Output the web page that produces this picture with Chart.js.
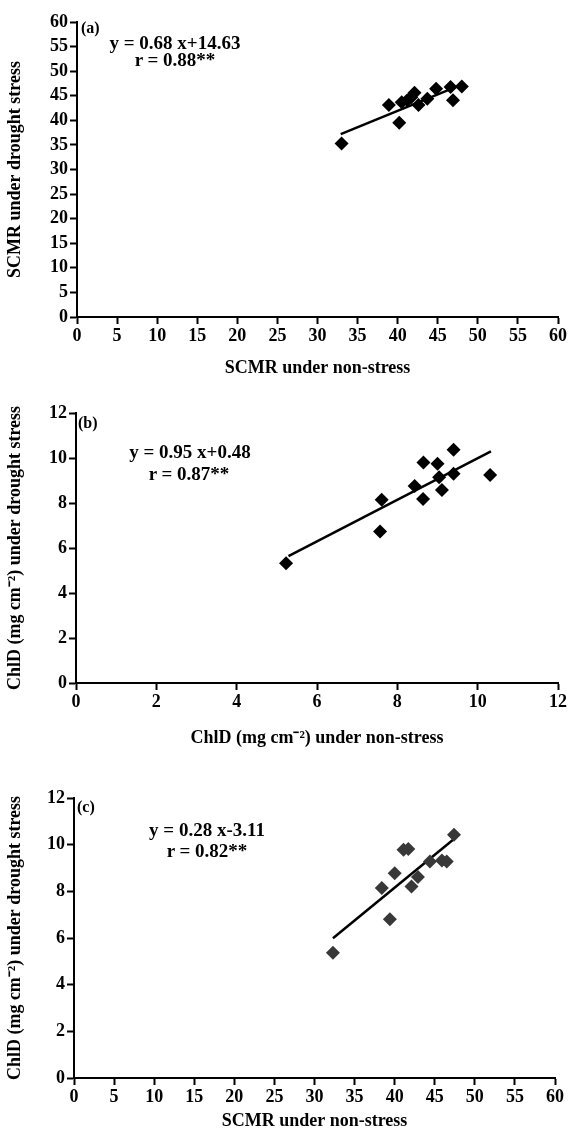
<!DOCTYPE html>
<html>
<head>
<meta charset="utf-8">
<script src="https://cdn.jsdelivr.net/npm/chart.js@4.4.1/dist/chart.umd.min.js"></script>
<style>
body{margin:0;background:#fff;width:569px;height:1133px;position:relative;overflow:hidden;font-family:'Liberation Serif',serif;color:#000}
canvas{position:absolute;left:0}
.eq{position:absolute;font-weight:bold;font-size:19px;line-height:1;white-space:nowrap;transform:translate(-50%,-50%)}
.tag{position:absolute;font-weight:bold;font-size:16px;line-height:1;white-space:nowrap;transform:translateY(-50%)}
</style>
</head>
<body>
<canvas id="chartA" width="569" height="380" style="top:0px"></canvas>
<canvas id="chartB" width="569" height="370" style="top:380px"></canvas>
<canvas id="chartC" width="569" height="373" style="top:760px"></canvas>

<div class="tag" style="left:81px;top:28px">(a)</div>
<div class="eq" style="left:175px;top:42px">y = 0.68 x+14.63</div>
<div class="eq" style="left:175px;top:59px">r = 0.88**</div>

<div class="tag" style="left:78px;top:423px">(b)</div>
<div class="eq" style="left:190px;top:451px">y = 0.95 x+0.48</div>
<div class="eq" style="left:189px;top:473px">r = 0.87**</div>

<div class="tag" style="left:77px;top:807px">(c)</div>
<div class="eq" style="left:207px;top:829px">y = 0.28 x-3.11</div>
<div class="eq" style="left:207px;top:850px">r = 0.82**</div>

<script>
// panel (a): SCMR, non-stress vs drought
var scmrNonStressA = [33.0, 38.9, 40.2, 40.5, 41.2, 41.7, 42.1, 42.6, 43.7, 44.8, 46.6, 46.9, 48.0];
var scmrDroughtA   = [35.3, 43.1, 39.5, 43.7, 44.1, 44.7, 45.6, 43.1, 44.4, 46.4, 46.8, 44.1, 46.9];
var fitXA = [32.9, 47.9];
var fitYA = [37.2, 47.2];

// panel (b): ChlD, non-stress vs drought
var chlNonStressB = [5.23, 7.61, 7.57, 8.43, 8.64, 8.65, 9.00, 9.04, 9.11, 9.40, 9.40, 10.31];
var chlDroughtB   = [5.32, 8.14, 6.73, 8.76, 8.18, 9.80, 9.74, 9.15, 8.58, 10.37, 9.30, 9.25];
var fitXB = [5.29, 10.33];
var fitYB = [5.64, 10.29];

// panel (c): SCMR non-stress vs ChlD drought
var scmrNonStressC = [32.3, 38.4, 39.4, 40.0, 41.1, 41.7, 42.1, 42.9, 44.4, 45.9, 46.5, 47.4];
var chlDroughtC    = [5.37, 8.14, 6.80, 8.78, 9.78, 9.81, 8.21, 8.61, 9.28, 9.32, 9.28, 10.43];
var fitXC = [32.3, 47.4];
var fitYC = [5.99, 10.24];

var scmrTicks = [0, 5, 10, 15, 20, 25, 30, 35, 40, 45, 50, 55, 60];
var chlTicks  = [0, 2, 4, 6, 8, 10, 12];

var FONT = 'Liberation Serif';

function toPoints(xs, ys){
  return xs.map((x, i) => ({x: x, y: ys[i]}));
}

function axis(ticks, title, fit, isX){
  return {
    type: 'linear',
    min: ticks[0],
    max: ticks[ticks.length - 1],
    afterBuildTicks: s => { s.ticks = ticks.map(v => ({value: v})); },
    afterFit: s => { if (isX) s.height = fit; else s.width = fit; },
    grid: {drawOnChartArea: false, drawTicks: true, tickLength: 7, tickWidth: 2, tickColor: '#000'},
    border: {display: true, color: '#000', width: 2},
    ticks: {color: '#000', padding: 2, autoSkip: false, maxRotation: 0,
      font: {family: FONT, size: 18, weight: 'bold'}},
    title: {display: true, text: title, color: '#000',
      font: {family: FONT, size: 18, weight: 'bold'},
      padding: isX ? {top: 0, bottom: 1} : {top: 5, bottom: 0}}
  };
}

function makePanel(id, xs, ys, fx, fy, xTicks, yTicks, xTitle, yTitle, box, color){
  new Chart(document.getElementById(id).getContext('2d'), {
    type: 'scatter',
    data: {
      datasets: [{
        data: toPoints(xs, ys),
        pointStyle: 'rectRot',
        pointRadius: 7,
        pointBackgroundColor: color,
        pointBorderColor: color,
        pointBorderWidth: 0
      }, {
        type: 'line',
        data: toPoints(fx, fy),
        borderColor: '#000',
        borderWidth: 2.5,
        pointRadius: 0,
        fill: false
      }]
    },
    options: {
      responsive: false,
      devicePixelRatio: 1,
      animation: false,
      events: [],
      layout: {padding: {top: box.top, right: box.right, left: 0, bottom: 0}},
      plugins: {legend: {display: false}, tooltip: {enabled: false}},
      scales: {
        x: axis(xTicks, xTitle, box.xh, true),
        y: axis(yTicks, yTitle, box.yw, false)
      }
    }
  });
}

makePanel('chartA', scmrNonStressA, scmrDroughtA, fitXA, fitYA, scmrTicks, scmrTicks,
  'SCMR under non-stress', 'SCMR under drought stress',
  {top: 22, right: 11, xh: 63, yw: 77}, '#000');

makePanel('chartB', chlNonStressB, chlDroughtB, fitXB, fitYB, chlTicks, chlTicks,
  'ChlD (mg cm\u207B\u00B2) under non-stress', 'ChlD (mg cm\u207B\u00B2) under drought stress',
  {top: 33, right: 11, xh: 67, yw: 76}, '#000');

makePanel('chartC', scmrNonStressC, chlDroughtC, fitXC, fitYC, scmrTicks, chlTicks,
  'SCMR under non-stress', 'ChlD (mg cm\u207B\u00B2) under drought stress',
  {top: 38, right: 14, xh: 55, yw: 74}, '#383838');
</script>
</body>
</html>
